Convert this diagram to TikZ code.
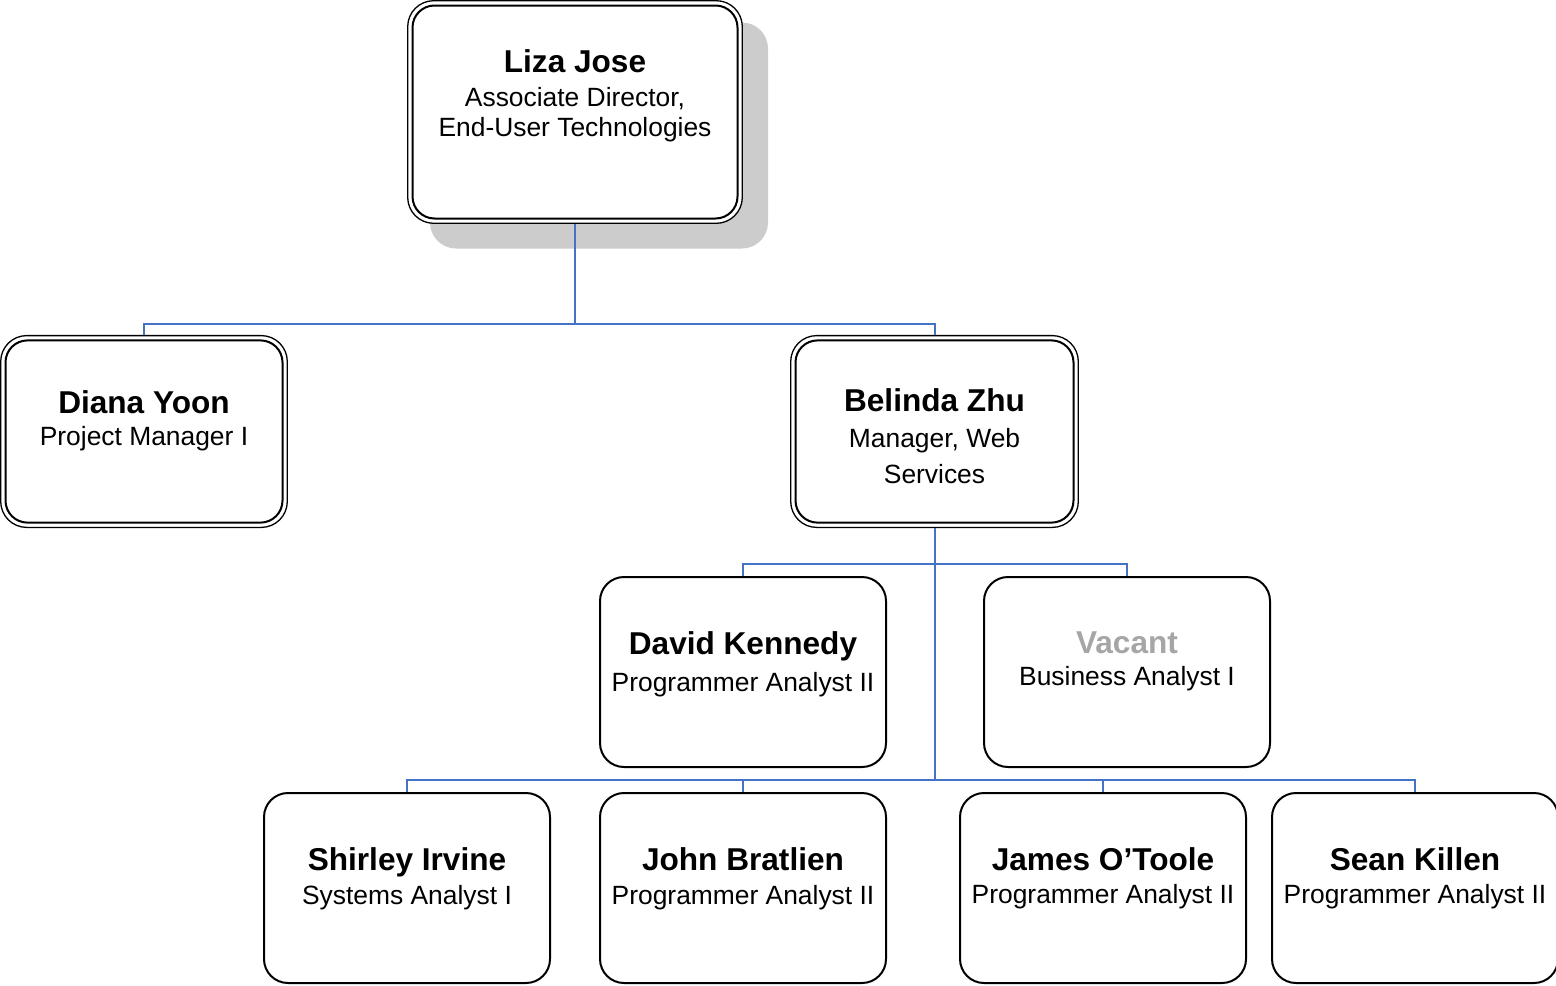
\documentclass[tikz,border=0pt]{standalone}
\usepackage{fontspec}
\setmainfont{Liberation Sans}
\definecolor{linkblue}{RGB}{68,114,196}
\definecolor{shadowgray}{RGB}{204,204,204}
\definecolor{vacantgray}{RGB}{166,166,166}
\tikzset{
  outerbox/.style={draw, line width=0.65pt, rounded corners=13pt, fill=white, inner sep=0pt},
  innerbox/.style={draw, line width=1pt, rounded corners=11pt, inner sep=0pt},
  onebox/.style={draw, line width=1pt, rounded corners=12pt, fill=white, inner sep=0pt,
    minimum width=143pt, minimum height=95pt},
  shadowbox/.style={fill=shadowgray, rounded corners=13pt, inner sep=0pt},
  nametext/.style={inner sep=0pt, anchor=base, font=\fontsize{15.8}{19}\selectfont\bfseries},
  roletext/.style={inner sep=0pt, anchor=base, font=\fontsize{13.2}{16}\selectfont},
  link/.style={draw=linkblue, line width=1pt}
}
\begin{document}
\begin{tikzpicture}[x=0.5pt, y=-0.5pt]
\useasboundingbox (0,0) rectangle (1556,985);

% ---- Liza Jose (with shadow) ----
\node[shadowbox, minimum width=169pt, minimum height=113pt] (lizaS) at (599,135.5) {};
\node[outerbox, minimum width=167.3pt, minimum height=111.3pt] (lizaO) at (575,112) {};
\node[innerbox, minimum width=162.5pt, minimum height=106.5pt] (lizaI) at (575,112) {};
\node[nametext] (lizaN) at (575,72) {Liza Jose};
\node[roletext] (lizaR1) at (575,106) {Associate Director,};
\node[roletext] (lizaR2) at (575,136.7) {End-User Technologies};

% ---- Diana Yoon ----
\node[outerbox, minimum width=143.3pt, minimum height=95.9pt] (dianaO) at (144,431.5) {};
\node[innerbox, minimum width=138.5pt, minimum height=91.1pt] (dianaI) at (144,431.5) {};
\node[nametext] (dianaN) at (144,413) {Diana Yoon};
\node[roletext] (dianaR) at (144,445) {Project Manager I};

% ---- Belinda Zhu ----
\node[outerbox, minimum width=143.8pt, minimum height=95.9pt] (belindaO) at (934.5,431.5) {};
\node[innerbox, minimum width=139pt, minimum height=91.1pt] (belindaI) at (934.5,431.5) {};
\node[nametext] (belindaN) at (934.5,411.7) {Belinda Zhu};
\node[roletext] (belindaR1) at (934.5,447.3) {Manager, Web};
\node[roletext] (belindaR2) at (934.5,483.3) {Services};

% ---- second level ----
\node[onebox] (david) at (743,672) {};
\node[nametext] (davidN) at (743,654) {David Kennedy};
\node[roletext] (davidR) at (743,691.7) {Programmer Analyst II};

\node[onebox] (vacant) at (1127,672) {};
\node[nametext, text=vacantgray] (vacantN) at (1127,653.3) {Vacant};
\node[roletext] (vacantR) at (1127,685.7) {Business Analyst I};

% ---- third level ----
\node[onebox] (shirley) at (407,888) {};
\node[nametext] (shirleyN) at (407,870) {Shirley Irvine};
\node[roletext] (shirleyR) at (407,904) {Systems Analyst I};

\node[onebox] (john) at (743,888) {};
\node[nametext] (johnN) at (743,870) {John Bratlien};
\node[roletext] (johnR) at (743,904) {Programmer Analyst II};

\node[onebox] (james) at (1103,888) {};
\node[nametext] (jamesN) at (1103,870) {James O’Toole};
\node[roletext] (jamesR) at (1103,903.3) {Programmer Analyst II};

\node[onebox] (sean) at (1415,888) {};
\node[nametext] (seanN) at (1415,870) {Sean Killen};
\node[roletext] (seanR) at (1415,903.3) {Programmer Analyst II};

% ---- connectors ----
\coordinate (busA) at (575,324);
\coordinate (busB) at (934.5,563.5);
\coordinate (busC) at (934.5,779.5);

\draw[link] (lizaO.south) -- (busA);
\draw[link] (busA) -| (dianaO.north);
\draw[link] (busA) -| (belindaO.north);

\draw[link] (belindaO.south) -- (busC);
\draw[link] (busB) -| (david.north);
\draw[link] (busB) -| (vacant.north);

\draw[link] (busC) -| (shirley.north);
\draw[link] (busC) -| (john.north);
\draw[link] (busC) -| (james.north);
\draw[link] (busC) -| (sean.north);
\end{tikzpicture}
\end{document}
